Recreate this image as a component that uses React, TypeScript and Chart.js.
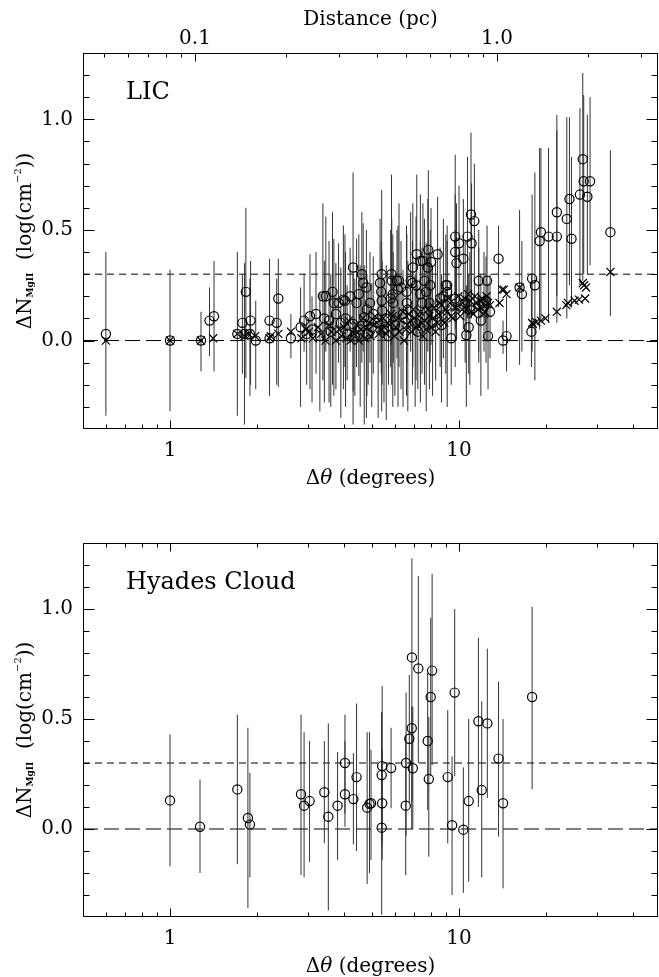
import React, { useEffect, useRef } from 'react';
import { Chart, registerables } from 'chart.js';

Chart.register(...registerables);

const FONT = "'DejaVu Serif', 'Liberation Serif', serif";

// ---------- LIC panel: measured circles with error bars ----------
const licTheta = [
  0.60, 1.00, 1.28, 1.37, 1.42, 1.71, 1.78, 1.81, 1.83, 1.89, 1.90, 1.98, 2.21, 2.21, 2.34, 2.37, 2.62, 2.83, 2.91, 2.97,
  3.05, 3.10, 3.20, 3.30, 3.38, 3.42, 3.46, 3.55, 3.60, 3.65, 3.69, 3.75, 3.83, 3.90, 3.98, 4.03, 4.05, 4.10, 4.20,
  4.30, 4.30, 4.36, 4.42, 4.50, 4.55, 4.61, 4.66, 4.70, 4.78, 4.80, 4.85, 4.92, 4.99, 5.05,
  5.25, 5.33, 5.40, 5.38, 5.40, 5.42, 5.50, 5.60, 5.70, 5.80, 5.84, 5.85, 5.90, 5.92, 6.00, 6.10, 6.15, 6.20, 6.30, 6.40,
  6.58, 6.60, 6.65, 6.80, 6.90, 6.92, 7.05, 7.10, 7.14, 7.20, 7.35, 7.35, 7.45, 7.50, 7.60, 7.70, 7.80, 7.83, 7.90, 7.95, 8.00, 8.10, 8.30, 8.43,
  8.60, 8.70, 8.83, 9.00, 9.10, 9.10, 9.40, 9.70, 9.70, 9.70, 9.80, 10.00, 10.35, 10.50, 10.60, 10.70, 10.80, 10.90, 11.00, 11.05, 11.30, 11.70, 11.70, 11.90, 12.20, 12.40, 12.50, 12.60, 12.80,
  13.70, 14.20, 14.60, 16.20, 16.50, 17.80, 17.90, 18.30, 19.00, 19.20, 20.40, 21.80, 21.80, 23.60, 24.10, 24.50, 26.20, 26.80, 27.00, 27.80, 28.40, 33.40,
];
const licN = [
  0.03, 0.00, 0.00, 0.09, 0.11, 0.03, 0.08, 0.03, 0.22, 0.03, 0.09, 0.00, 0.09, 0.01, 0.08, 0.19, 0.01, 0.06, 0.09, 0.03,
  0.11, 0.05, 0.12, 0.02, 0.20, 0.10, 0.20, 0.09, 0.04, 0.22, 0.17, 0.12, 0.17, 0.08, 0.185, 0.18, 0.10, 0.03, 0.20,
  0.33, 0.075, 0.02, 0.17, 0.21, 0.05, 0.30, 0.26, 0.105, 0.24, 0.14, 0.03, 0.17, 0.06, 0.12,
  0.08, 0.26, 0.30, 0.22, 0.18, 0.135, 0.05, 0.10, 0.02, 0.19, 0.30, 0.27, 0.21, 0.17, 0.07, 0.27, 0.23, 0.27, 0.24, 0.12,
  0.22, 0.17, 0.14, 0.27, 0.26, 0.33, 0.08, 0.25, 0.39, 0.04, 0.36, 0.21, 0.17, 0.36, 0.27, 0.22, 0.33, 0.41, 0.17, 0.25, 0.355, 0.08, 0.12, 0.39,
  0.19, 0.07, 0.20, 0.25, 0.22, 0.25, 0.01, 0.47, 0.40, 0.19, 0.35, 0.44, 0.37, 0.17, 0.025, 0.47, 0.06, 0.14, 0.57, 0.44, 0.54, 0.27, 0.16, 0.09, 0.17, 0.18, 0.27, 0.02, 0.13,
  0.37, 0.00, 0.02, 0.24, 0.21, 0.04, 0.28, 0.25, 0.45, 0.49, 0.47, 0.47, 0.58, 0.55, 0.64, 0.46, 0.66, 0.82, 0.72, 0.65, 0.72, 0.49,
];
const licLow = [
  -0.34, -0.32, -0.14, -0.07, -0.14, -0.34, -0.15, -0.38, -0.17, -0.25, -0.20, -0.22, -0.20, -0.25, -0.20, -0.21, -0.08, -0.30, -0.05, -0.20,
  -0.22, -0.28, -0.15, -0.32, -0.18, -0.28, -0.05, -0.28, -0.30, -0.20, -0.25, -0.22, -0.10, -0.35, -0.22, -0.12, -0.30, -0.18, -0.05,
  -0.23, -0.38, -0.25, -0.12, -0.16, -0.30, -0.10, -0.05, -0.38, -0.35, -0.25, -0.20, -0.10, -0.30, -0.15,
  -0.35, -0.10, -0.05, -0.15, -0.32, -0.20, -0.28, -0.36, -0.20, -0.12, -0.02, -0.20, -0.30, -0.10, -0.25, -0.08, -0.30, -0.12, -0.22, -0.30,
  -0.25, -0.10, -0.32, -0.05, -0.20, -0.12, -0.30, -0.18, 0.02, -0.22, -0.10, -0.28, -0.15, 0.00, -0.20, -0.32, -0.05, 0.05, -0.22, -0.10, -0.02, -0.25, -0.18, 0.08,
  -0.12, -0.28, -0.08, -0.15, -0.30, 0.02, -0.20, 0.10, 0.05, -0.12, 0.00, 0.12, 0.05, -0.10, -0.30, 0.10, -0.15, -0.20, 0.20, 0.10, 0.15, -0.05, -0.10, -0.25, -0.05, -0.10, 0.00, -0.22, -0.08,
  0.15, -0.06, -0.14, -0.11, -0.05, -0.12, -0.05, -0.18, 0.05, 0.10, 0.08, 0.08, 0.20, 0.10, 0.25, 0.15, 0.25, 0.27, 0.30, 0.30, 0.34, 0.11,
];
const licHigh = [
  0.40, 0.32, 0.13, 0.24, 0.36, 0.40, 0.30, 0.35, 0.60, 0.28, 0.36, 0.18, 0.37, 0.30, 0.28, 0.37, 0.12, 0.24, 0.30, 0.10,
  0.39, 0.20, 0.40, 0.22, 0.62, 0.36, 0.56, 0.45, 0.30, 0.58, 0.46, 0.35, 0.44, 0.33, 0.52, 0.48, 0.40, 0.25, 0.42,
  0.76, 0.30, 0.28, 0.46, 0.48, 0.34, 0.58, 0.53, 0.34, 0.50, 0.30, 0.25, 0.40, 0.26, 0.38,
  0.30, 0.55, 0.68, 0.45, 0.40, 0.36, 0.28, 0.34, 0.22, 0.50, 0.75, 0.55, 0.48, 0.40, 0.30, 0.50, 0.52, 0.62, 0.45, 0.32,
  0.52, 0.48, 0.36, 0.58, 0.45, 0.62, 0.30, 0.56, 0.75, 0.25, 0.66, 0.45, 0.42, 0.62, 0.55, 0.44, 0.64, 0.77, 0.40, 0.50, 0.60, 0.33, 0.36, 0.65,
  0.42, 0.30, 0.55, 0.48, 0.45, 0.52, 0.25, 0.84, 0.66, 0.50, 0.62, 0.70, 0.64, 0.45, 0.25, 0.83, 0.30, 0.40, 0.94, 0.71, 0.80, 0.50, 0.42, 0.30, 0.40, 0.38, 0.52, 0.26, 0.30,
  0.52, 0.09, 0.20, 0.59, 0.45, 0.30, 0.66, 0.76, 0.87, 0.87, 0.87, 1.02, 0.95, 1.01, 1.01, 0.83, 1.05, 1.21, 1.11, 1.02, 1.10, 0.86,
];

// ---------- LIC panel: crosses ----------
const licModelTheta = [
  0.60, 1.00, 1.28, 1.41, 1.71, 1.81, 1.87, 1.97, 2.21, 2.23, 2.37, 2.62, 2.85, 2.95, 3.03, 3.12, 3.25, 3.33, 3.45, 3.55,
  3.62, 3.75, 3.85, 3.92, 4.00, 4.08, 4.15, 4.22, 4.28, 4.35, 4.42, 4.50, 4.58, 4.65, 4.72, 4.80, 4.88, 4.95, 5.05, 5.12,
  5.20, 5.28, 5.35, 5.45, 5.52, 5.60, 5.68, 5.75, 5.82, 5.90, 5.98, 6.05, 6.15, 6.22, 6.30, 6.38, 6.45, 6.55, 6.62, 6.70,
  6.78, 6.85, 6.95, 7.00, 7.10, 7.20, 7.28, 7.35, 7.45, 7.50, 7.60, 7.70, 7.80, 7.90, 8.00, 8.10, 8.20, 8.30, 8.40, 8.50,
  8.60, 8.70, 8.80, 8.90, 9.00, 9.10, 9.20, 9.30, 9.40, 9.50, 9.65, 9.80, 9.95, 10.10, 10.25, 10.30, 10.45, 10.60, 10.75, 10.90,
  11.05, 11.20, 11.35, 11.50, 11.65, 11.80, 11.95, 12.00, 12.15, 12.30, 12.45, 12.60, 12.80, 13.80, 14.10, 14.30, 14.60, 16.20,
  17.90, 18.00, 18.50, 19.20, 19.90, 21.80, 23.50, 23.80, 25.10, 26.00, 26.80, 27.10, 27.30, 27.50, 33.40,
];
const licModelN = [
  0.00, 0.00, 0.00, 0.01, 0.03, 0.02, 0.03, 0.02, 0.01, 0.02, 0.03, 0.04, 0.01, 0.05, 0.04, 0.01, 0.06, 0.03, 0.00, 0.07,
  0.04, 0.00, 0.05, 0.02, 0.06, 0.01, 0.09, 0.00, 0.04, 0.03, 0.07, 0.00, 0.05, 0.10, 0.01, 0.06, 0.08, 0.02, 0.07, 0.11,
  0.08, 0.03, 0.05, 0.10, 0.06, 0.03, 0.08, 0.07, 0.12, 0.11, 0.02, 0.06, 0.10, 0.04, 0.09, 0.13, 0.00, 0.05, 0.07, 0.12,
  0.09, 0.04, 0.14, 0.10, 0.06, 0.07, 0.11, 0.13, 0.08, 0.02, 0.09, 0.05, 0.14, 0.11, 0.06, 0.10, 0.15, 0.04, 0.08, 0.12,
  0.17, 0.16, 0.09, 0.08, 0.14, 0.13, 0.19, 0.17, 0.11, 0.10, 0.15, 0.15, 0.20, 0.11, 0.14, 0.17, 0.19, 0.14, 0.21, 0.18,
  0.13, 0.12, 0.20, 0.17, 0.14, 0.15, 0.18, 0.19, 0.12, 0.13, 0.20, 0.17, 0.16, 0.17, 0.23, 0.23, 0.21, 0.24,
  0.08, 0.075, 0.083, 0.09, 0.10, 0.13, 0.16, 0.17, 0.18, 0.185, 0.26, 0.25, 0.19, 0.24, 0.31,
];

// ---------- Hyades Cloud panel ----------
const hyTheta = [
  1.00, 1.27, 1.71, 1.86, 1.89, 2.84, 2.91, 3.04, 3.42, 3.53, 3.80, 4.03, 4.03, 4.31, 4.42, 4.81, 4.90, 4.96,
  5.40, 5.42, 5.40, 5.42, 5.82, 6.54, 6.56, 6.73, 6.86, 6.87, 6.92, 7.23, 7.79, 7.86, 7.98, 8.07,
  9.14, 9.46, 9.66, 10.35, 10.80, 11.67, 11.98, 12.53, 13.70, 14.20, 17.90,
];
const hyN = [
  0.13, 0.01, 0.18, 0.05, 0.02, 0.158, 0.106, 0.127, 0.167, 0.056, 0.106, 0.30, 0.158, 0.136, 0.236, 0.097, 0.114, 0.117,
  0.006, 0.286, 0.245, 0.117, 0.277, 0.106, 0.30, 0.41, 0.458, 0.78, 0.276, 0.73, 0.40, 0.227, 0.60, 0.72,
  0.236, 0.017, 0.62, -0.003, 0.127, 0.49, 0.177, 0.48, 0.32, 0.117, 0.60,
];
const hyLow = [
  -0.17, -0.20, -0.16, -0.36, -0.22, -0.21, -0.22, -0.15, -0.065, -0.37, -0.14, 0.07, 0.01, -0.07, -0.10, -0.25, -0.20, -0.14,
  -0.39, -0.08, -0.05, -0.14, 0.094, -0.21, -0.03, 0.12, 0.00, 0.125, 0.00, 0.30, 0.086, -0.126, 0.24, 0.29,
  -0.065, -0.30, 0.24, -0.29, -0.24, 0.10, -0.22, 0.14, -0.035, -0.27, 0.18,
];
const hyHigh = [
  0.43, 0.225, 0.52, 0.46, 0.255, 0.52, 0.44, 0.40, 0.40, 0.48, 0.35, 0.52, 0.40, 0.345, 0.57, 0.44, 0.44, 0.36,
  0.53, 0.65, 0.53, 0.36, 0.46, 0.42, 0.62, 0.70, 0.556, 1.23, 0.556, 1.15, 0.71, 0.51, 0.96, 1.16,
  0.54, 0.33, 1.00, 0.28, 0.50, 0.87, 0.58, 0.82, 0.67, 0.50, 1.01,
];

// ---------- axes ----------
const thetaMin = 0.5;
const thetaMax = 48.8;
const distMin = 0.04257;
const distMax = 3.413;
const nMin = -0.4;
const nMax = 1.3;
const zeroLevel = 0.0;
const thresholdLevel = 0.3;

const thetaTicks = [0.6, 0.7, 0.8, 0.9, 1, 2, 3, 4, 5, 6, 7, 8, 9, 10, 20, 30, 40];
const thetaTickLabels: [number, string][] = [[1, '1'], [10, '10']];
const distTicks = [0.05, 0.06, 0.07, 0.08, 0.09, 0.1, 0.2, 0.3, 0.4, 0.5, 0.6, 0.7, 0.8, 0.9, 1, 2, 3];
const distTickLabels: [number, string][] = [[0.1, '0.1'], [1, '1.0']];
const nTicks = [-0.3, -0.2, -0.1, 0.0, 0.1, 0.2, 0.3, 0.4, 0.5, 0.6, 0.7, 0.8, 0.9, 1.0, 1.1, 1.2];
const nTickLabels: [number, string][] = [[0, '0.0'], [0.5, '0.5'], [1.0, '1.0']];

function labelFor(v: number, table: [number, string][]) {
  for (const [k, s] of table) if (Math.abs(k - v) < 1e-9) return s;
  return '';
}

const framePlugin = {
  id: 'frame',
  afterDatasetsDraw(chart: any, _args: any, opts: any) {
    const { ctx, chartArea: a, scales } = chart;
    ctx.save();
    ctx.strokeStyle = '#000';
    ctx.lineWidth = 1;
    const L = Math.round(a.left) + 0.5;
    const R = Math.round(a.right) - 0.5;
    const T = Math.round(a.top) + 0.5;
    const B = Math.round(a.bottom) - 0.5;
    ctx.strokeRect(L, T, R - L, B - T);
    ctx.beginPath();
    const ys = scales.y;
    for (const t of ys.ticks) {
      const p = Math.round(ys.getPixelForValue(t.value)) + 0.5;
      const len = t.label ? 11 : 6;
      ctx.moveTo(L, p); ctx.lineTo(L + len, p);
      ctx.moveTo(R, p); ctx.lineTo(R - len, p);
    }
    const xs = scales.x;
    for (const t of xs.ticks) {
      const p = Math.round(xs.getPixelForValue(t.value)) + 0.5;
      const len = t.label ? 8 : 4;
      ctx.moveTo(p, B); ctx.lineTo(p, B - len);
      if (!scales.x2) { ctx.moveTo(p, T); ctx.lineTo(p, T + len); }
    }
    if (scales.x2) {
      const x2 = scales.x2;
      for (const t of x2.ticks) {
        const p = Math.round(x2.getPixelForValue(t.value)) + 0.5;
        const len = t.label ? 8 : 4;
        ctx.moveTo(p, T); ctx.lineTo(p, T + len);
      }
    }
    ctx.stroke();

    ctx.fillStyle = '#000';
    ctx.textBaseline = 'alphabetic';
    // panel label
    ctx.font = `24px ${FONT}`;
    ctx.textAlign = 'left';
    ctx.fillText(opts.label, a.left + 43, a.top + 46);

    // x title: Δθ (degrees)
    const cx = (a.left + a.right) / 2;
    const parts: { t: string; f: string; dy: number }[] = [
      { t: 'Δ', f: `20px ${FONT}`, dy: 0 },
      { t: 'θ', f: `italic 20px ${FONT}`, dy: 0 },
      { t: ' (degrees)', f: `20px ${FONT}`, dy: 0 },
    ];
    drawParts(ctx, parts, cx, a.bottom + 55);

    if (opts.distance) {
      ctx.font = `20px ${FONT}`;
      ctx.textAlign = 'center';
      ctx.fillText('Distance (pc)', cx, 25);
    }

    // y title
    ctx.save();
    ctx.translate(31, (a.top + a.bottom) / 2);
    ctx.rotate(-Math.PI / 2);
    const yparts = [
      { t: 'ΔN', f: `20px ${FONT}`, dy: 0 },
      { t: 'MgII', f: `bold 9px ${FONT}`, dy: 2 },
      { t: '  (log(cm', f: `20px ${FONT}`, dy: 0 },
      { t: '−2', f: `10px ${FONT}`, dy: -10 },
      { t: '))', f: `20px ${FONT}`, dy: 0 },
    ];
    drawParts(ctx, yparts, 0, 0);
    ctx.restore();
    ctx.restore();
  },
};

function drawParts(ctx: CanvasRenderingContext2D, parts: { t: string; f: string; dy: number }[], cx: number, baseY: number) {
  ctx.textAlign = 'left';
  let total = 0;
  const widths = parts.map((p) => { ctx.font = p.f; const w = ctx.measureText(p.t).width; total += w; return w; });
  let x = cx - total / 2;
  parts.forEach((p, i) => {
    ctx.font = p.f;
    ctx.fillText(p.t, x, baseY + p.dy);
    x += widths[i];
  });
}

type PanelProps = {
  label: string;
  theta: number[];
  n: number[];
  lo: number[];
  hi: number[];
  modelTheta?: number[];
  modelN?: number[];
  distance: boolean;
  height: number;
};

function Panel(props: PanelProps) {
  const ref = useRef<HTMLCanvasElement | null>(null);
  useEffect(() => {
    if (!ref.current) return;
    const { theta, n, lo, hi, modelTheta, modelN, distance, height } = props;
    const errPts: any[] = [];
    theta.forEach((t, i) => {
      errPts.push({ x: t, y: lo[i] }, { x: t, y: hi[i] }, { x: t, y: null });
    });
    const datasets: any[] = [
      {
        label: 'obs',
        data: theta.map((t, i) => ({ x: t, y: n[i] })),
        pointStyle: 'circle',
        pointRadius: 4.6,
        pointHoverRadius: 4.6,
        borderColor: '#000',
        backgroundColor: 'rgba(0,0,0,0)',
        borderWidth: 1.2,
        xAxisID: 'x',
        yAxisID: 'y',
      },
    ];
    if (modelTheta && modelN) {
      datasets.push({
        label: 'model',
        data: modelTheta.map((t, i) => ({ x: t, y: modelN[i] })),
        pointStyle: 'crossRot',
        pointRadius: 5.7,
        pointHoverRadius: 5.7,
        borderColor: '#000',
        backgroundColor: '#000',
        borderWidth: 1.2,
        xAxisID: 'x',
        yAxisID: 'y',
      });
    }
    datasets.push(
      {
        label: 'err',
        data: errPts,
        showLine: true,
        spanGaps: false,
        pointRadius: 0,
        borderColor: '#333',
        borderWidth: 1,
        xAxisID: 'x',
        yAxisID: 'y',
      },
      {
        label: 'zero',
        data: [{ x: thetaMin, y: zeroLevel }, { x: thetaMax, y: zeroLevel }],
        showLine: true,
        pointRadius: 0,
        borderColor: '#000',
        borderWidth: 1,
        borderDash: [15, 6],
        xAxisID: 'x',
        yAxisID: 'y',
      },
      {
        label: 'threshold',
        data: [{ x: thetaMin, y: thresholdLevel }, { x: thetaMax, y: thresholdLevel }],
        showLine: true,
        pointRadius: 0,
        borderColor: '#000',
        borderWidth: 1,
        borderDash: [7, 5],
        xAxisID: 'x',
        yAxisID: 'y',
      }
    );

    const tickFont = { family: FONT, size: 20 };
    const noGrid = { display: false, drawTicks: false, tickLength: 0 };
    const scales: any = {
      x: {
        type: 'logarithmic',
        position: 'bottom',
        min: thetaMin,
        max: thetaMax,
        grid: noGrid,
        border: { display: false },
        afterBuildTicks: (s: any) => { s.ticks = thetaTicks.map((v) => ({ value: v })); },
        afterFit: (s: any) => { s.height = height - (distance ? 429 : 427); s.paddingLeft = 0; s.paddingRight = 0; },
        ticks: {
          autoSkip: false, maxRotation: 0, minRotation: 0, padding: 10, color: '#000', font: tickFont,
          callback: (v: any) => labelFor(Number(v), thetaTickLabels),
        },
      },
      y: {
        type: 'linear',
        min: nMin,
        max: nMax,
        grid: noGrid,
        border: { display: false },
        afterBuildTicks: (s: any) => { s.ticks = nTicks.map((v) => ({ value: v })); },
        afterFit: (s: any) => { s.width = 83; },
        ticks: {
          autoSkip: false, padding: 10, color: '#000', font: tickFont,
          callback: (v: any) => labelFor(Number(v), nTickLabels),
        },
      },
    };
    if (distance) {
      scales.x2 = {
        type: 'logarithmic',
        position: 'top',
        min: distMin,
        max: distMax,
        grid: noGrid,
        border: { display: false },
        afterBuildTicks: (s: any) => { s.ticks = distTicks.map((v) => ({ value: v })); },
        afterFit: (s: any) => { s.height = 53; s.paddingLeft = 0; s.paddingRight = 0; },
        ticks: {
          autoSkip: false, maxRotation: 0, minRotation: 0, padding: 2, color: '#000', font: tickFont,
          callback: (v: any) => labelFor(Number(v), distTickLabels),
        },
      };
    }

    const chart = new Chart(ref.current, {
      type: 'scatter',
      data: { datasets },
      options: {
        responsive: false,
        animation: false,
        events: [],
        layout: { autoPadding: false, padding: { left: 0, right: 1, top: distance ? 0 : 53, bottom: 0 } },
        plugins: {
          legend: { display: false },
          tooltip: { enabled: false },
          frame: { label: props.label, distance },
        } as any,
        scales,
      },
      plugins: [framePlugin as any],
    });
    return () => chart.destroy();
  }, []);
  return <canvas ref={ref} width={659} height={props.height} style={{ display: 'block', width: 659, height: props.height }} />;
}

export default function App() {
  return (
    <div style={{ position: 'absolute', left: 0, top: 0, width: 659, height: 977, background: '#fff' }}>
      <div style={{ position: 'absolute', left: 0, top: 0 }}>
        <Panel label="LIC" theta={licTheta} n={licN} lo={licLow} hi={licHigh}
          modelTheta={licModelTheta} modelN={licModelN} distance={true} height={490} />
      </div>
      <div style={{ position: 'absolute', left: 0, top: 490 }}>
        <Panel label="Hyades Cloud" theta={hyTheta} n={hyN} lo={hyLow} hi={hyHigh} distance={false} height={487} />
      </div>
    </div>
  );
}
